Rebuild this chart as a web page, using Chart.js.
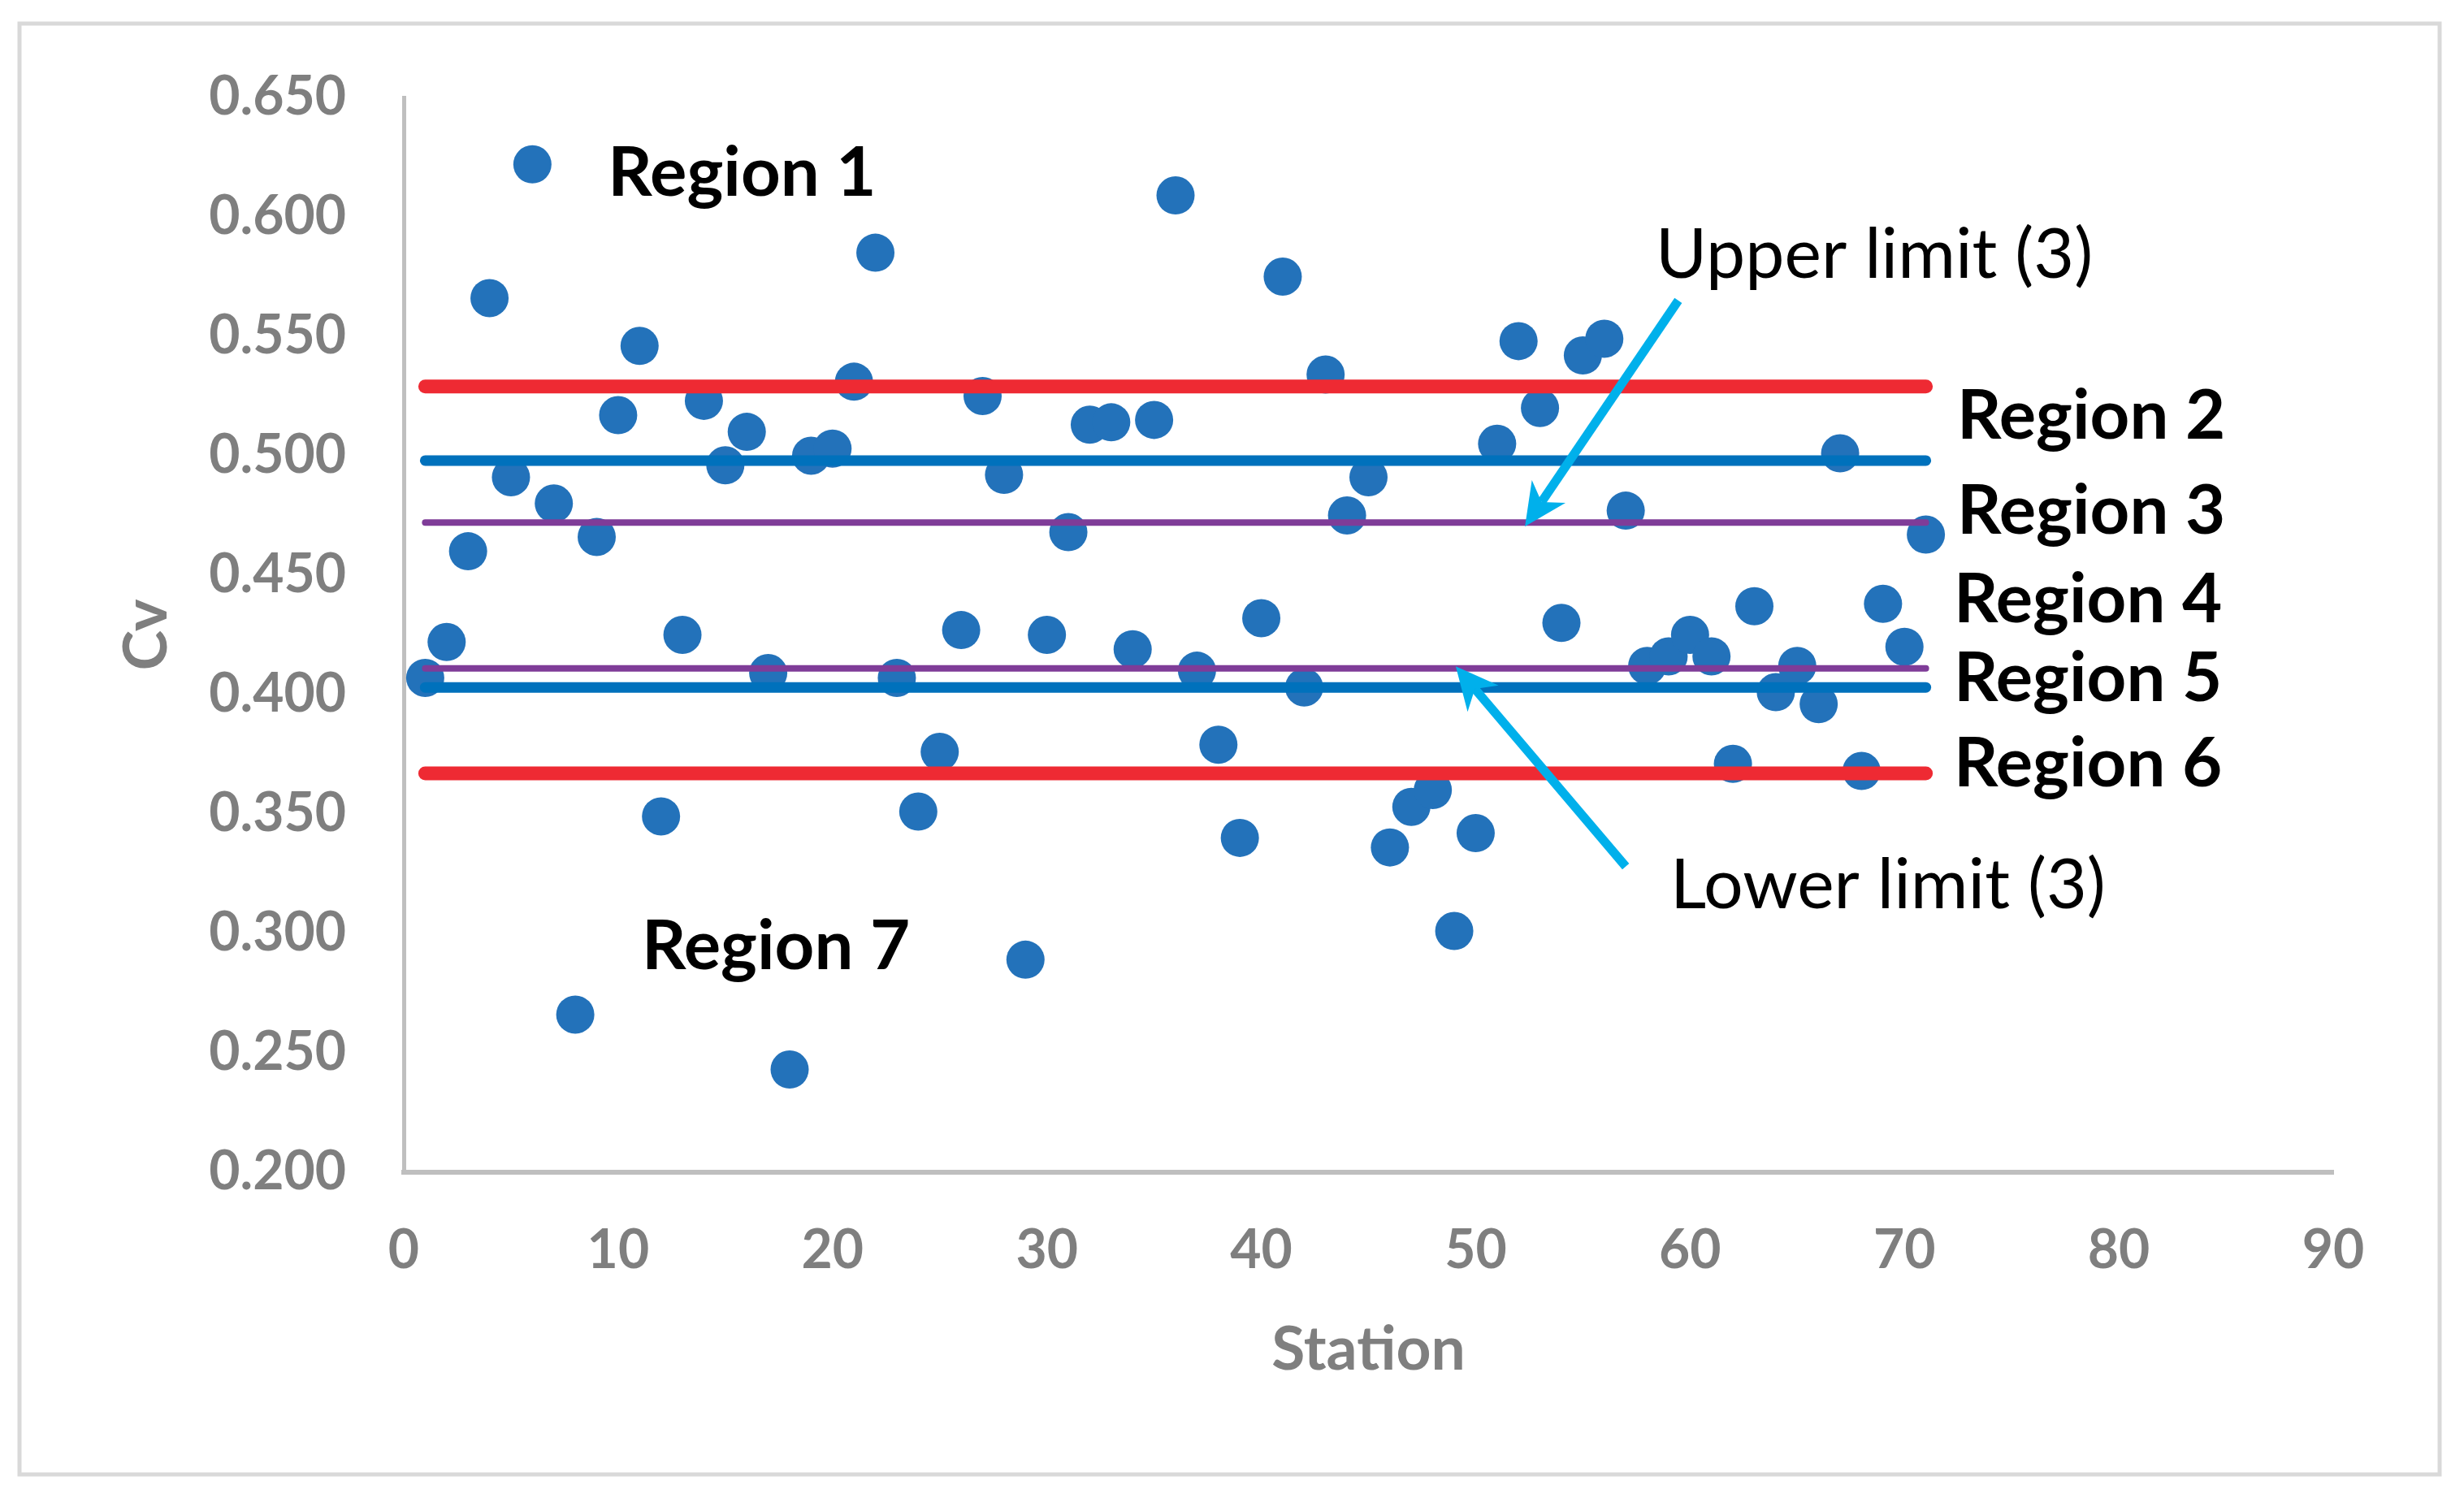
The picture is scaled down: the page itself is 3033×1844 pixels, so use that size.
<!DOCTYPE html>
<html>
<head>
<meta charset="utf-8">
<script src="https://cdn.jsdelivr.net/npm/chart.js@4.4.0/dist/chart.umd.min.js"></script>
<style>
html,body{margin:0;padding:0;background:#ffffff;}
#wrap{width:3033px;height:1844px;position:relative;}
</style>
</head>
<body>
<div id="wrap"><canvas id="c"></canvas></div>
<script>
// ---- data ----
const stations = [1,2,3,4,5,6,7,8,9,10,11,12,13,14,15,16,17,18,19,20,21,22,23,24,25,26,27,28,29,30,31,32,33,34,35,36,37,38,39,40,41,42,43,44,45,46,47,48,49,50,51,52,53,54,55,56,57,58,59,60,61,62,63,64,65,66,67,68,69,70,71];
const cvValues = [0.407,0.422,0.460,0.566,0.491,0.622,0.480,0.266,0.466,0.517,
                  0.546,0.349,0.425,0.523,0.496,0.510,0.409,0.243,0.500,0.503,
                  0.531,0.585,0.407,0.351,0.376,0.427,0.525,0.492,0.289,0.425,
                  0.468,0.513,0.514,0.419,0.515,0.609,0.410,0.379,0.340,0.432,
                  0.575,0.403,0.534,0.475,0.491,0.336,0.353,0.360,0.301,0.342,
                  0.505,0.548,0.520,0.430,0.542,0.549,0.477,0.412,0.416,0.425,
                  0.416,0.371,0.437,0.401,0.412,0.396,0.501,0.368,0.438,0.420,
                  0.467];
const limitNames  = ['Upper limit (1)','Upper limit (2)','Upper limit (3)','Lower limit (3)','Lower limit (2)','Lower limit (1)'];
const limitValues = [0.529,0.498,0.472,0.411,0.403,0.367];
const limitStart = 1, limitEnd = 71;
const xTicks = [0,10,20,30,40,50,60,70,80,90];
const yTicks = [0.200,0.250,0.300,0.350,0.400,0.450,0.500,0.550,0.600,0.650];
const regionLabels = ['Region 1','Region 2','Region 3','Region 4','Region 5','Region 6','Region 7'];
const limitLabels = ['Upper limit (3)','Lower limit (3)'];

// ---- styles / placement (data units) ----
const limitColors = ['#EE2A33','#0071BC','#7F3C98','#7F3C98','#0071BC','#EE2A33'];
const limitWidths = [17,13,8,8,13,17];
const regionPos = [[9.52,0.609],[72.45,0.507],[72.45,0.4673],[72.3,0.4302],[72.3,0.3974],[72.3,0.3616],[11.1,0.2849]];
const limitLabelPos = [[58.4,0.5746],[59.08,0.3105]];
const arrows = [ {from:[59.45,0.565], to:[52.3,0.4704]}, {from:[57.0,0.328], to:[49.07,0.4118]} ];

const datasets = [];
limitValues.forEach((v,i)=>{
  datasets.push({
    type:'line', label:limitNames[i],
    data:[{x:limitStart,y:v},{x:limitEnd,y:v}],
    borderColor:limitColors[i], borderWidth:limitWidths[i],
    borderCapStyle:'round', pointRadius:0, fill:false, order:i
  });
});
datasets.push({
  type:'scatter', label:'Cv',
  data: stations.map((s,i)=>({x:s,y:cvValues[i]})),
  backgroundColor:'#2372BA', borderColor:'#2372BA', borderWidth:0,
  pointRadius:23.5, pointHoverRadius:23.5, order:20
});

const frame = {
  id:'frame',
  beforeDraw(chart){
    const ctx = chart.ctx;
    ctx.save();
    ctx.fillStyle='#ffffff';
    ctx.fillRect(0,0,chart.width,chart.height);
    ctx.strokeStyle='#D9D9D9';
    ctx.lineWidth=5;
    ctx.strokeRect(24,29,2979,1786);
    ctx.restore();
  }
};

const notes = {
  id:'notes',
  afterDatasetsDraw(chart){
    const ctx = chart.ctx, xs = chart.scales.x, ys = chart.scales.y;
    const px = v=>xs.getPixelForValue(v), py = v=>ys.getPixelForValue(v);
    ctx.save();
    // arrows
    ctx.strokeStyle='#00B0EB'; ctx.fillStyle='#00B0EB';
    arrows.forEach(a=>{
      const x1=px(a.from[0]), y1=py(a.from[1]), x2=px(a.to[0]), y2=py(a.to[1]);
      const dx=x2-x1, dy=y2-y1, L=Math.hypot(dx,dy), ux=dx/L, uy=dy/L;
      const headLen=52, halfW=25;
      const bx=x2-ux*headLen, by=y2-uy*headLen;
      ctx.lineWidth=11; ctx.lineCap='butt';
      ctx.beginPath(); ctx.moveTo(x1,y1); ctx.lineTo(x2-ux*headLen*0.7, y2-uy*headLen*0.7); ctx.stroke();
      ctx.beginPath();
      ctx.moveTo(x2,y2);
      ctx.lineTo(bx - uy*halfW, by + ux*halfW);
      ctx.lineTo(x2-ux*headLen*0.7, y2-uy*headLen*0.7);
      ctx.lineTo(bx + uy*halfW, by - ux*halfW);
      ctx.closePath(); ctx.fill();
    });
    // labels
    ctx.fillStyle='#000000'; ctx.textBaseline='alphabetic'; ctx.textAlign='left';
    ctx.font='bold 85px Lato';
    regionLabels.forEach((t,i)=>{ ctx.fillText(t, px(regionPos[i][0]), py(regionPos[i][1])); });
    ctx.font='86px Lato';
    limitLabels.forEach((t,i)=>{ ctx.fillText(t, px(limitLabelPos[i][0]), py(limitLabelPos[i][1])); });
    ctx.restore();
  }
};

function build(){
  new Chart(document.getElementById('c'), {
    data:{datasets},
    options:{
      responsive:true, maintainAspectRatio:false, animation:false, devicePixelRatio:1,
      layout:{padding:{top:120,right:161,left:0,bottom:0}},
      plugins:{legend:{display:false}, tooltip:{enabled:false}},
      scales:{
        x:{
          type:'linear', position:'bottom', min:0, max:90,
          afterBuildTicks:s=>{s.ticks = xTicks.map(v=>({value:v}));},
          afterFit:s=>{s.height=401;},
          ticks:{font:{family:'Lato',weight:'bold',size:66}, color:'#7F7F7F', padding:57, maxRotation:0},
          grid:{display:false, drawTicks:false},
          border:{display:true,color:'#BFBFBF',width:6},
          title:{display:true,text:'Station',color:'#7F7F7F',font:{family:'Lato',weight:'bold',size:75},padding:{top:0,bottom:137}}
        },
        y:{
          type:'linear', min:0.2, max:0.65,
          afterBuildTicks:s=>{s.ticks = yTicks.map(v=>({value:v}));},
          afterFit:s=>{s.width=497;},
          ticks:{font:{family:'Lato',weight:'bold',size:66}, color:'#7F7F7F', padding:71, callback:v=>Number(v).toFixed(3)},
          grid:{display:false, drawTicks:false},
          border:{display:true,color:'#BFBFBF',width:5},
          title:{display:true,text:'Cv',color:'#7F7F7F',font:{family:'Lato',weight:'bold',size:75},padding:{top:136,bottom:0}}
        }
      }
    },
    plugins:[frame,notes]
  });
}
Promise.all([document.fonts.load('bold 64px Lato'),document.fonts.load('64px Lato')]).then(build,build);
</script>
</body>
</html>
